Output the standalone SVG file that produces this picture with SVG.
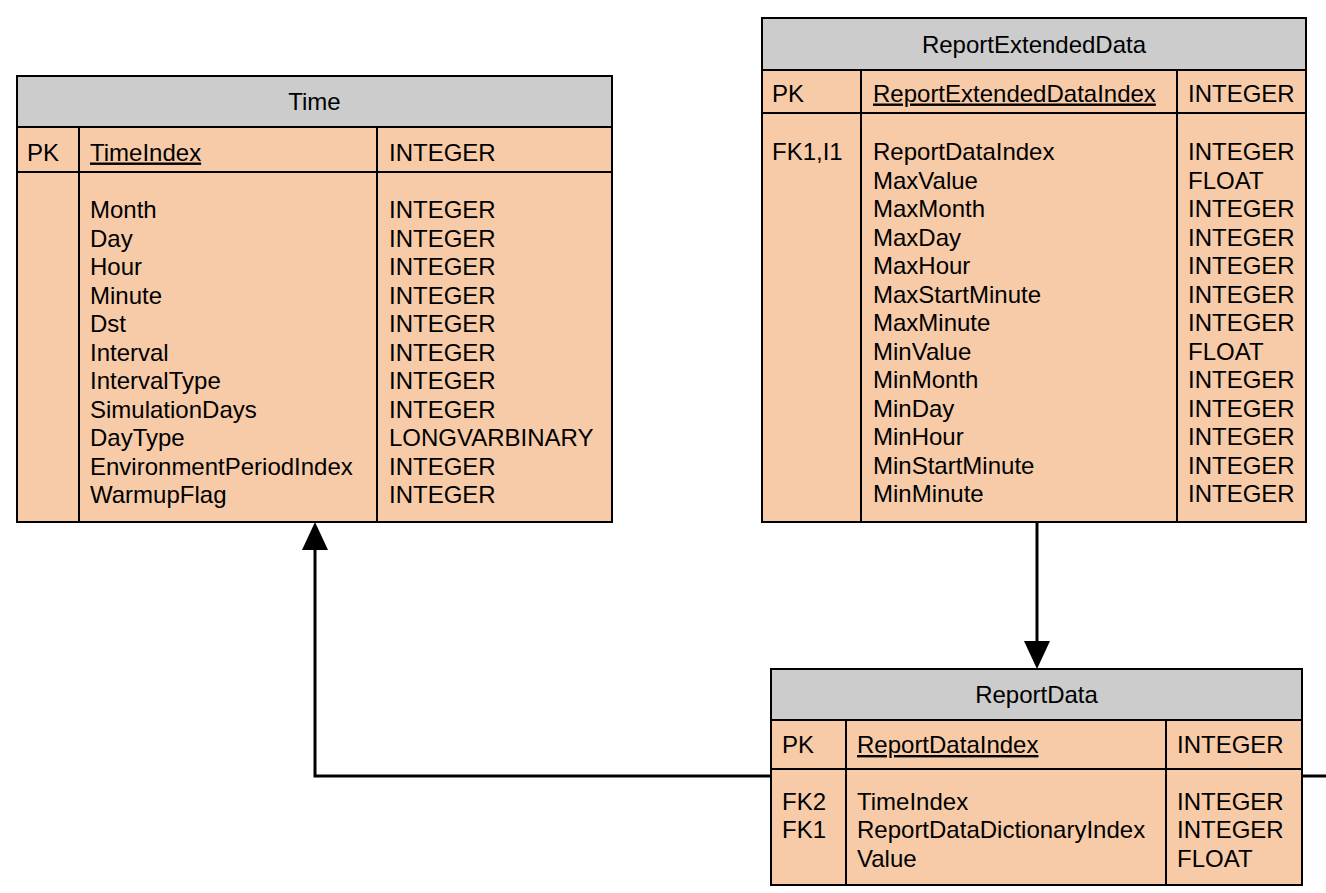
<svg xmlns="http://www.w3.org/2000/svg" width="1326" height="893" viewBox="0 0 1326 893">
<style>
text{font-family:"Liberation Sans",Arial,sans-serif;font-size:24px;fill:#000}
.t{text-anchor:middle}
.u{text-decoration:underline}
.hd{fill:#cccccc;stroke:#000;stroke-width:2}
.bd{fill:#f8cba8;stroke:#000;stroke-width:2}
.ln{stroke:#000;stroke-width:2;fill:none}
.cn{stroke:#000;stroke-width:3;fill:none}
</style>
<defs>
<marker id="arr" viewBox="0 0 28 26" refX="0" refY="13" markerWidth="28" markerHeight="26" markerUnits="userSpaceOnUse" orient="auto">
<path d="M0,0 L28,13 L0,26 Z" fill="#000"/>
</marker>
</defs>
<rect width="1326" height="893" fill="#fff"/>

<g id="connectors">
<path class="cn" d="M1037,522 L1037,641" marker-end="url(#arr)"/>
<path class="cn" d="M771,776 L315,776 L315,550" marker-end="url(#arr)"/>
<path class="cn" d="M1302,776 L1326,776"/>
</g>

<g id="Time">
<rect class="bd" x="17" y="76" width="595" height="446"/>
<rect class="hd" x="17" y="76" width="595" height="51"/>
<line class="ln" x1="17" y1="172" x2="612" y2="172"/>
<line class="ln" x1="79" y1="127" x2="79" y2="522"/>
<line class="ln" x1="377" y1="127" x2="377" y2="522"/>
<text class="t" x="314.5" y="110">Time</text>
<text x="27" y="160.5">PK</text>
<text class="u" x="90" y="160.5">TimeIndex</text>
<text x="389" y="160.5">INTEGER</text>
<text x="90" y="218">Month</text><text x="389" y="218">INTEGER</text>
<text x="90" y="246.5">Day</text><text x="389" y="246.5">INTEGER</text>
<text x="90" y="275">Hour</text><text x="389" y="275">INTEGER</text>
<text x="90" y="303.5">Minute</text><text x="389" y="303.5">INTEGER</text>
<text x="90" y="332">Dst</text><text x="389" y="332">INTEGER</text>
<text x="90" y="360.5">Interval</text><text x="389" y="360.5">INTEGER</text>
<text x="90" y="389">IntervalType</text><text x="389" y="389">INTEGER</text>
<text x="90" y="417.5">SimulationDays</text><text x="389" y="417.5">INTEGER</text>
<text x="90" y="446">DayType</text><text x="389" y="446">LONGVARBINARY</text>
<text x="90" y="474.5">EnvironmentPeriodIndex</text><text x="389" y="474.5">INTEGER</text>
<text x="90" y="503">WarmupFlag</text><text x="389" y="503">INTEGER</text>
</g>

<g id="ReportExtendedData">
<rect class="bd" x="762" y="18" width="544" height="504"/>
<rect class="hd" x="762" y="18" width="544" height="52"/>
<line class="ln" x1="762" y1="113" x2="1306" y2="113"/>
<line class="ln" x1="861" y1="70" x2="861" y2="522"/>
<line class="ln" x1="1177" y1="70" x2="1177" y2="522"/>
<text class="t" x="1034" y="53">ReportExtendedData</text>
<text x="772" y="101.5">PK</text>
<text class="u" x="873" y="101.5">ReportExtendedDataIndex</text>
<text x="1188" y="101.5">INTEGER</text>
<text x="772" y="160">FK1,I1</text>
<text x="873" y="160">ReportDataIndex</text><text x="1188" y="160">INTEGER</text>
<text x="873" y="188.5">MaxValue</text><text x="1188" y="188.5">FLOAT</text>
<text x="873" y="217">MaxMonth</text><text x="1188" y="217">INTEGER</text>
<text x="873" y="245.5">MaxDay</text><text x="1188" y="245.5">INTEGER</text>
<text x="873" y="274">MaxHour</text><text x="1188" y="274">INTEGER</text>
<text x="873" y="302.5">MaxStartMinute</text><text x="1188" y="302.5">INTEGER</text>
<text x="873" y="331">MaxMinute</text><text x="1188" y="331">INTEGER</text>
<text x="873" y="359.5">MinValue</text><text x="1188" y="359.5">FLOAT</text>
<text x="873" y="388">MinMonth</text><text x="1188" y="388">INTEGER</text>
<text x="873" y="416.5">MinDay</text><text x="1188" y="416.5">INTEGER</text>
<text x="873" y="445">MinHour</text><text x="1188" y="445">INTEGER</text>
<text x="873" y="473.5">MinStartMinute</text><text x="1188" y="473.5">INTEGER</text>
<text x="873" y="502">MinMinute</text><text x="1188" y="502">INTEGER</text>
</g>

<g id="ReportData">
<rect class="bd" x="771" y="669" width="531" height="216"/>
<rect class="hd" x="771" y="669" width="531" height="51"/>
<line class="ln" x1="771" y1="769" x2="1302" y2="769"/>
<line class="ln" x1="846" y1="720" x2="846" y2="885"/>
<line class="ln" x1="1166" y1="720" x2="1166" y2="885"/>
<text class="t" x="1036.5" y="703">ReportData</text>
<text x="782" y="753">PK</text>
<text class="u" x="857" y="753">ReportDataIndex</text>
<text x="1177" y="753">INTEGER</text>
<text x="782" y="809.5">FK2</text>
<text x="857" y="809.5">TimeIndex</text><text x="1177" y="809.5">INTEGER</text>
<text x="782" y="838">FK1</text>
<text x="857" y="838">ReportDataDictionaryIndex</text><text x="1177" y="838">INTEGER</text>
<text x="857" y="866.5">Value</text><text x="1177" y="866.5">FLOAT</text>
</g>
</svg>
